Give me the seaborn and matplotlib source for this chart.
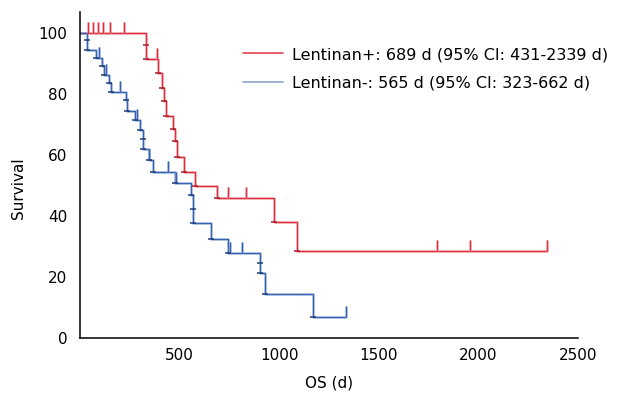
import numpy as np
import pandas as pd
import matplotlib
matplotlib.use("Agg")
import matplotlib.pyplot as plt
from matplotlib.lines import Line2D
import seaborn as sns

# ---------------- data ----------------
groups = ["Lentinan+", "Lentinan-"]
legend_labels = ["Lentinan+: 689 d (95% CI: 431-2339 d)",
                 "Lentinan-: 565 d (95% CI: 323-662 d)"]

pos_times = [0, 330, 390, 412, 422, 432, 469, 477, 485, 522, 575, 688, 975, 1087, 2343]
pos_surv = [100, 91.5, 86.9, 82.1, 77.8, 73.0, 68.7, 64.5, 59.4, 54.6, 50.0, 45.8, 38.2, 28.6, 28.6]
pos_censor = [39, 64, 89, 115, 150, 222, 385, 745, 832, 1792, 1958, 2343]
pos_extra_events = [(330, 96.1)]

neg_times = [0, 37, 80, 109, 120, 147, 156, 229, 238, 276, 301, 318, 348, 365, 477,
             556, 566, 658, 741, 904, 930, 1168, 1335]
neg_surv = [100, 94.4, 92.0, 89.2, 86.2, 83.7, 80.8, 78.0, 74.5, 71.5, 68.4, 61.9, 58.4,
            54.5, 50.9, 46.9, 37.6, 32.5, 27.8, 21.2, 14.3, 7.0, 7.0]
neg_censor = [97, 130, 199, 288, 348, 440, 480, 753, 813, 1335]
neg_extra_events = [(37, 97.8), (318, 65.2), (566, 42.5), (904, 24.5)]

x_ticks = [500, 1000, 1500, 2000, 2500]
x_minor = [250, 750, 1250, 1750, 2250]
y_ticks = [0, 20, 40, 60, 80, 100]

core_colors = {"Lentinan+": "#DC2F3E", "Lentinan-": "#3762AE"}
halo_colors = {"Lentinan+": "#F197A0", "Lentinan-": "#93ADDA"}
mark_colors = {"Lentinan+": "#A81E2A", "Lentinan-": "#1F3C7A"}
legend_colors = ["#E8414D", "#8CA4CE"]

# ---------------- build tables ----------------
df = pd.concat([
    pd.DataFrame({"time": pos_times, "surv": pos_surv, "group": groups[0]}),
    pd.DataFrame({"time": neg_times, "surv": neg_surv, "group": groups[1]}),
], ignore_index=True)


def level_at(times, surv, t):
    idx = np.searchsorted(np.asarray(times), t, side="right") - 1
    return np.asarray(surv)[idx]


sns.set_style("white")
plt.rcParams["font.family"] = ["DejaVu Sans"]
plt.rcParams["text.color"] = "black"
plt.rcParams["axes.labelcolor"] = "black"
plt.rcParams["xtick.color"] = "black"
plt.rcParams["ytick.color"] = "black"

fig = plt.figure(figsize=(6.27, 3.99), dpi=100)
ax = fig.add_axes([80 / 627, 1 - 338 / 399, 498 / 627, 326 / 399])

sns.lineplot(data=df, x="time", y="surv", hue="group", palette=halo_colors,
             drawstyle="steps-post", estimator=None, sort=False, lw=1.9,
             alpha=0.7, legend=False, ax=ax)
sns.lineplot(data=df, x="time", y="surv", hue="group", palette=core_colors,
             drawstyle="steps-post", estimator=None, sort=False, lw=0.9,
             legend=False, ax=ax)

for g, times, surv, cens, extra in [
        (groups[0], pos_times, pos_surv, pos_censor, pos_extra_events),
        (groups[1], neg_times, neg_surv, neg_censor, neg_extra_events)]:
    lv = np.array([level_at(times, surv, c) for c in cens])
    ax.vlines(cens, lv, lv + 3.6, color=halo_colors[g], lw=1.8, alpha=0.8)
    ax.vlines(cens, lv, lv + 3.6, color=core_colors[g], lw=0.9)
    # event markers at each drop
    ev_t = np.array(times[1:-1])
    ev_s = np.array(surv[1:-1])
    ex_t = np.array([e[0] for e in extra])
    ex_s = np.array([e[1] for e in extra])
    ax.plot(np.concatenate([ev_t, ex_t]), np.concatenate([ev_s, ex_s]),
            ls="none", marker="_", ms=4, mew=1.1, color=mark_colors[g])

ax.set_xlim(0, 2500)
ax.set_ylim(0, 107)
ax.set_xticks(x_ticks)
ax.set_xticks(x_minor, minor=True)
ax.set_yticks(y_ticks)
ax.tick_params(axis="both", which="major", direction="in", length=7, width=1,
               labelsize=11, color="#333333", labelcolor="black")
ax.tick_params(axis="x", which="major", pad=7)
ax.tick_params(axis="y", which="major", pad=9)
ax.tick_params(axis="x", which="minor", direction="in", length=3.5, width=1,
               color="#333333")
for s in ["top", "right"]:
    ax.spines[s].set_visible(False)
for s in ["left", "bottom"]:
    ax.spines[s].set_color("black")
    ax.spines[s].set_linewidth(1.1)

ax.set_xlabel("OS (d)", fontsize=11, color="black")
ax.set_ylabel("Survival", fontsize=11, color="black")
ax.xaxis.set_label_coords(0.5, -0.115)
ax.yaxis.set_label_coords(-0.108, 0.46)

handles = [Line2D([0], [0], color=c, lw=1.2) for c in legend_colors]
leg = fig.legend(handles, legend_labels, loc="upper left",
                 bbox_to_anchor=(243 / 627, 1 - 47 / 399), frameon=False,
                 fontsize=11.5, handlelength=2.5, handletextpad=0.55,
                 labelspacing=0.85, borderpad=0, borderaxespad=0)
for t in leg.get_texts():
    t.set_color("black")

fig.savefig("out.png", dpi=100)
